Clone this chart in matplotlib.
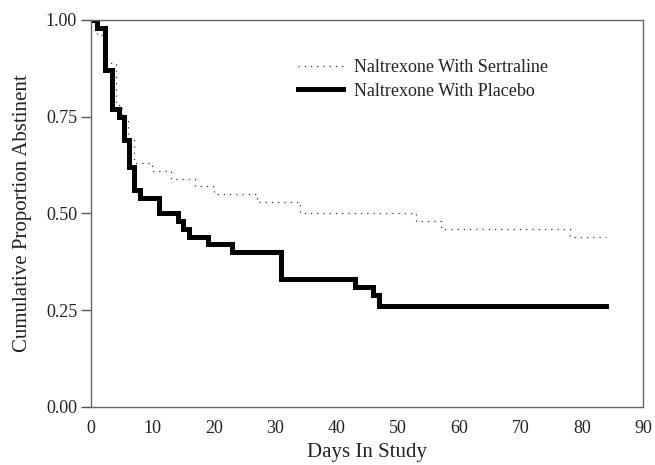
import numpy as np
import matplotlib.pyplot as plt

# Kaplan-Meier step data (day, proportion)
sert_days = [0, 1, 2, 4, 5, 6, 7, 10, 13, 17, 20, 27, 34, 53, 57, 78, 84]
sert_prop = [1.00, 0.96, 0.89, 0.78, 0.75, 0.69, 0.63, 0.61, 0.59, 0.57, 0.55, 0.53, 0.50, 0.48, 0.46, 0.44, 0.44]

plac_days = [0, 1, 2.3, 3.4, 4.6, 5.4, 6.2, 7, 8, 11, 14.2, 15, 16, 19, 23, 31, 43, 46, 47, 84]
plac_prop = [1.00, 0.98, 0.87, 0.77, 0.75, 0.69, 0.62, 0.56, 0.54, 0.50, 0.48, 0.46, 0.44, 0.42, 0.40, 0.33, 0.31, 0.29, 0.26, 0.26]

xticks = np.arange(0, 91, 10)
yticks = [0.00, 0.25, 0.50, 0.75, 1.00]

plt.rcParams['font.family'] = ['Liberation Serif', 'DejaVu Serif']

fig = plt.figure(figsize=(6.55, 4.65), dpi=100)
ax = fig.add_axes([0.139, 0.125, 0.843, 0.832])

ax.step(sert_days, sert_prop, where='post', color='#333333', lw=0.9,
        linestyle=(0, (1, 4)), label='Naltrexone With Sertraline')
ax.step(plac_days, plac_prop, where='post', color='black', lw=3.6,
        label='Naltrexone With Placebo', solid_joinstyle='miter')

ax.set_xlim(0, 90)
ax.set_ylim(0, 1.0)
ax.set_xticks(xticks)
ax.set_yticks(yticks)
ax.set_yticklabels([f'{v:.2f}' for v in yticks])
ax.tick_params(axis='both', labelsize=13, labelcolor='#222222')
ax.tick_params(axis='y', direction='out', length=7, width=1, colors='#555555',
               labelcolor='#222222', pad=3)
# x ticks show as small white gaps cut into the axis line
ax.tick_params(axis='x', direction='inout', length=3, width=1.2, colors='white',
               labelcolor='#222222', pad=8)

for spine in ax.spines.values():
    spine.set_color('#666666')
    spine.set_linewidth(1.0)

ax.set_xlabel('Days In Study', fontsize=15, color='#222222', labelpad=4)
ax.set_ylabel('Cumulative Proportion Abstinent', fontsize=15, color='#222222', labelpad=10)

leg = ax.legend(loc='upper left', bbox_to_anchor=(0.346, 0.94), frameon=False,
                fontsize=13, handlelength=2.5, handletextpad=0.6, labelspacing=0.35)
for txt in leg.get_texts():
    txt.set_color('#222222')

fig.savefig('out.png', dpi=100)
